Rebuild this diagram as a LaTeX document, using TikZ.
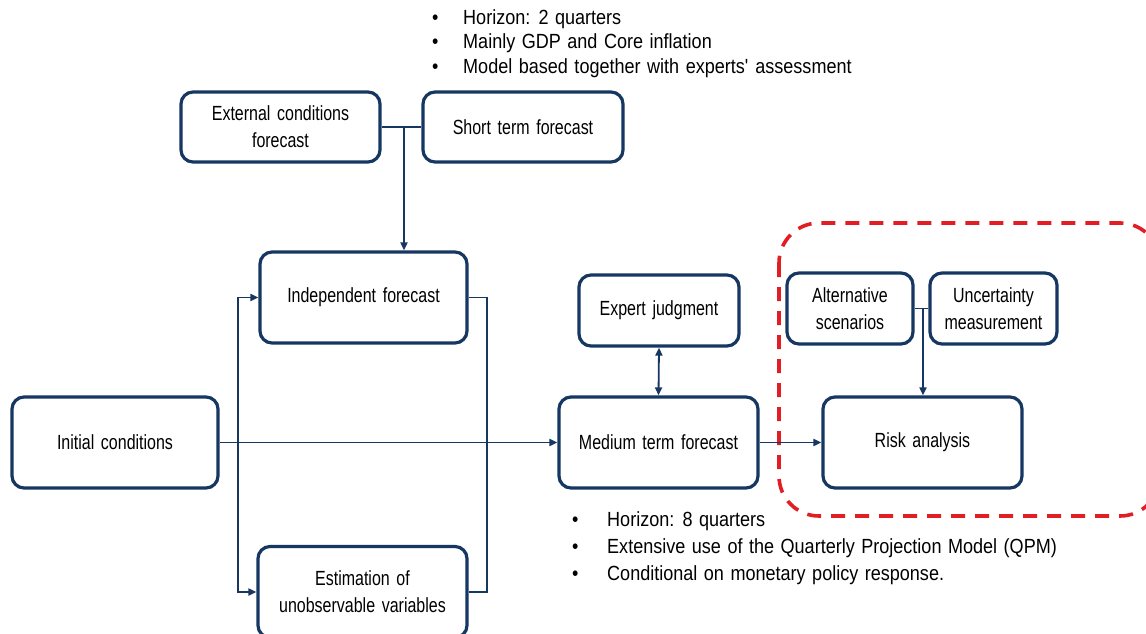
\documentclass[tikz,border=0pt]{standalone}
\usepackage{fontspec}
\setmainfont[FakeStretch=0.88,WordSpace=1.3]{Liberation Sans}
\newfontfamily\boxfont[FakeStretch=0.78,WordSpace=1.5]{Liberation Sans}
\usetikzlibrary{arrows.meta}
\definecolor{navy}{RGB}{22,55,98}
\definecolor{dred}{RGB}{224,30,36}
\tikzset{
  box/.style={draw=navy, line width=3.2pt, rounded corners=12pt, fill=white, align=center,
    inner sep=0pt, font=\boxfont\fontsize{20.5}{27}\selectfont},
  conn/.style={draw=navy, line width=1.8pt},
  arr/.style={conn, -{Triangle[length=8pt,width=7pt]}},
  darr/.style={conn, {Triangle[length=8pt,width=7pt]}-{Triangle[length=8pt,width=7pt]}},
  bul/.style={anchor=west, inner sep=0pt, text height=0.75em, text depth=0.2em,
    font=\fontsize{20.5}{26}\selectfont},
}
\newcommand{\bl}[1]{\makebox[31pt][l]{\textbullet}#1}
\newcommand{\blb}[1]{\makebox[35pt][l]{\textbullet}#1}
\begin{document}
\begin{tikzpicture}[x=1pt,y=-1pt]
\useasboundingbox (0,0) rectangle (1146,634);
\fill[white] (0,0) rectangle (1146,634);
% red dashed group
\draw[dred, line width=3.6pt, dash pattern=on 14pt off 10pt, rounded corners=40pt]
  (779,223) rectangle (1160,516);
% boxes
\node[box, minimum width=199pt, minimum height=70pt] (ext) at (280.5,127) {External conditions\\forecast};
\node[box, minimum width=200pt, minimum height=70pt] (short) at (523,127) {Short term forecast};
\node[box, minimum width=207pt, minimum height=91pt] (indep) at (363.5,297.5) {Independent forecast};
\node[box, minimum width=206pt, minimum height=91pt] (init) at (115,442.5) {Initial conditions};
\node[box, minimum width=209pt, minimum height=91pt] (est) at (362.5,592) {Estimation of\\unobservable variables};
\node[box, minimum width=199pt, minimum height=91pt] (med) at (658.5,442.5) {Medium term forecast};
\node[box, minimum width=160pt, minimum height=71pt] (exp) at (659,310.5) {Expert judgment};
\node[box, minimum width=199pt, minimum height=91pt] (risk) at (922.5,442.5) {Risk analysis};
\node[box, minimum width=126pt, minimum height=71pt] (alt) at (850,308.5) {Alternative\\scenarios};
\node[box, minimum width=127pt, minimum height=71pt] (unc) at (993.5,308.5) {Uncertainty\\measurement};
% connectors
\draw[conn] (ext.east) -- (short.west);
\coordinate (j1) at (404,127);
\draw[arr] (j1) -- (j1 |- indep.north);
\draw[arr] (init.east) -- (med.west);
\coordinate (s1) at (238,442.5);
\draw[arr] (s1) |- (indep.west);
\draw[arr] (s1) |- (est.west);
\coordinate (m1) at (487,442.5);
\draw[conn] (indep.east) -| (m1) |- (est.east);
\draw[darr] (exp.south) -- (med.north);
\draw[arr] (med.east) -- (risk.west);
\draw[conn] (alt.east) -- (unc.west);
\coordinate (j2) at (923,308.5);
\draw[arr] (j2) -- (j2 |- risk.north);
% bullet texts
\node[bul] (t1) at (432,21.5) {\bl{Horizon: 2 quarters}};
\node[bul] (t2) at (432,46) {\bl{Mainly GDP and Core inflation}};
\node[bul] (t3) at (432,70.5) {\bl{Model based together with experts\textquotesingle\ assessment}};
\node[bul] (b1) at (572,524) {\blb{Horizon: 8 quarters}};
\node[bul] (b2) at (572,551) {\blb{Extensive use of the Quarterly Projection Model (QPM)}};
\node[bul] (b3) at (572,578) {\blb{Conditional on monetary policy response.}};
\end{tikzpicture}
\end{document}
